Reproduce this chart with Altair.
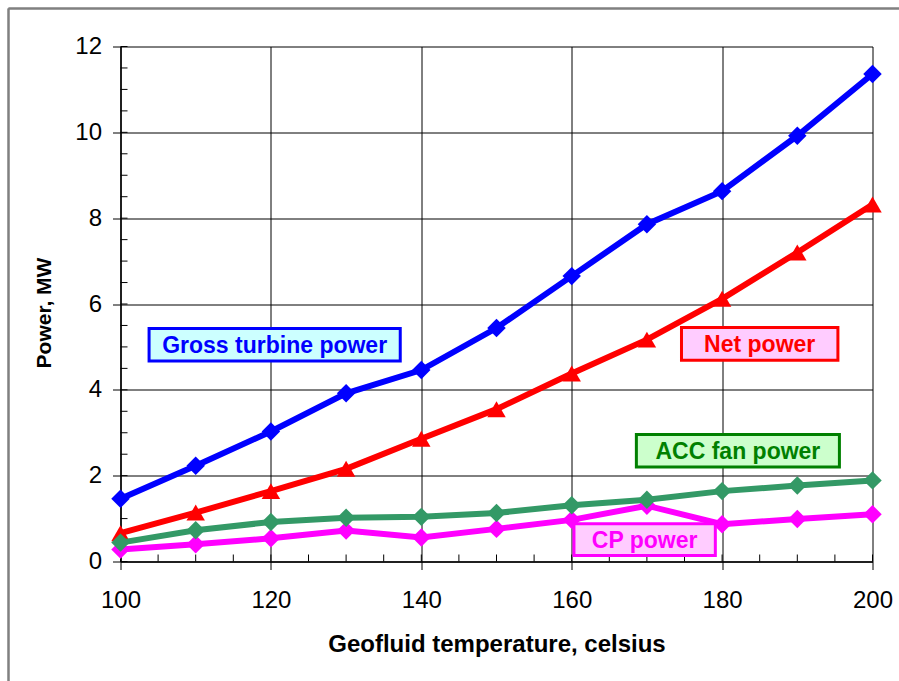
import altair as alt
import pandas as pd

# ---- data ----
temps = [100, 110, 120, 130, 140, 150, 160, 170, 180, 190, 200]
gross = [1.46, 2.23, 3.03, 3.92, 4.46, 5.44, 6.65, 7.86, 8.63, 9.92, 11.36]
net = [0.66, 1.14, 1.64, 2.16, 2.86, 3.55, 4.38, 5.17, 6.12, 7.20, 8.32]
acc = [0.44, 0.73, 0.92, 1.02, 1.04, 1.13, 1.31, 1.44, 1.64, 1.77, 1.89]
cp = [0.28, 0.40, 0.54, 0.72, 0.56, 0.76, 0.97, 1.30, 0.87, 0.99, 1.10]

series_names = ["CP power", "Net power", "ACC fan power", "Gross turbine power"]
series_values = [cp, net, acc, gross]
series_colors = ["#ff00ff", "#ff0000", "#339966", "#0000ff"]
series_shapes = ["diamond", "triangle-up", "diamond", "diamond"]

x_ticks = [100, 120, 140, 160, 180, 200]
y_ticks = [0, 2, 4, 6, 8, 10, 12]
x_minor = list(range(100, 201, 5))
y_minor = [i * 0.5 for i in range(25)]

# annotation boxes (data coordinates)
ann_text = ["Gross turbine power", "Net power", "ACC fan power", "CP power"]
ann_x1 = [103.8, 174.6, 168.6, 160.3]
ann_x2 = [137.2, 195.4, 195.6, 179.1]
ann_y1 = [4.67, 4.69, 2.20, 0.14]
ann_y2 = [5.43, 5.45, 2.96, 0.88]
ann_fill = ["#ccffff", "#ffccff", "#ccffcc", "#ffccff"]
ann_stroke = ["#0000ff", "#ff0000", "#008000", "#ff00ff"]
ann_color = ["#0000ff", "#ff0000", "#008000", "#ff00ff"]

W, H = 752, 515
FONT = "Liberation Sans"
NARROW = "Liberation Sans Narrow, Arial Narrow, Liberation Sans"

xs = alt.Scale(domain=[100, 200], nice=False, zero=False)
ys = alt.Scale(domain=[0, 12], nice=False, zero=True)

x_axis = alt.Axis(values=x_ticks, grid=True, gridColor="#000000", gridWidth=1, gridOpacity=1,
                  tickSize=8, tickColor="#000000", domainColor="#000000", domainWidth=1.5,
                  labelFontSize=24, labelFont=NARROW, labelColor="#000000", labelPadding=19,
                  labelFlush=False,
                  title="Geofluid temperature, celsius", titleFont=FONT, titleFontSize=24,
                  titleFontWeight="bold", titleColor="#000000", titlePadding=20)
y_axis = alt.Axis(values=y_ticks, grid=True, gridColor="#000000", gridWidth=1, gridOpacity=1,
                  tickSize=8, tickColor="#000000", domainColor="#000000", domainWidth=1.5,
                  labelFontSize=24, labelFont=NARROW, labelColor="#000000", labelPadding=11,
                  labelFlush=False,
                  title="Power, MW", titleFont=FONT, titleFontSize=21, titleY=266,
                  titleFontWeight="bold", titleColor="#000000", titlePadding=20)


def X(field):
    return alt.X(field, scale=xs, axis=x_axis)


def Y(field):
    return alt.Y(field, scale=ys, axis=y_axis)


# axes layer (invisible points used only to draw axes/grid)
axes_df = pd.DataFrame({"x": [100, 200], "y": [0, 12]})
axes = alt.Chart(axes_df).mark_point(opacity=0).encode(x=X("x:Q"), y=Y("y:Q"))

# minor ticks (inside)
ymin_df = pd.DataFrame({"y": y_minor})
ymin = alt.Chart(ymin_df).mark_rule(color="#000000", strokeWidth=1).encode(
    y=Y("y:Q"), x=alt.value(0), x2=alt.value(7),
)
xmin_df = pd.DataFrame({"x": x_minor})
xmin = alt.Chart(xmin_df).mark_rule(color="#000000", strokeWidth=1).encode(
    x=X("x:Q"), y=alt.value(H), y2=alt.value(H - 7),
)

layers = [axes, ymin, xmin]

for name, vals, col, shp in zip(series_names, series_values, series_colors, series_shapes):
    df = pd.DataFrame({"t": temps, "v": vals, "s": name})
    base = alt.Chart(df).encode(x=X("t:Q"), y=Y("v:Q"))
    line = base.mark_line(color=col, strokeWidth=6)
    pts = base.mark_point(shape=shp, filled=True, color=col, size=340, opacity=1)
    layers += [line, pts]

ann_df = pd.DataFrame({
    "text": ann_text, "x1": ann_x1, "x2": ann_x2, "y1": ann_y1, "y2": ann_y2,
    "fill": ann_fill, "stroke": ann_stroke, "tcol": ann_color,
})
ann_df["xm"] = (ann_df["x1"] + ann_df["x2"]) / 2
ann_df["ym"] = (ann_df["y1"] + ann_df["y2"]) / 2

boxes = alt.Chart(ann_df).mark_rect(strokeWidth=3).encode(
    x=X("x1:Q"), x2="x2:Q",
    y=Y("y1:Q"), y2="y2:Q",
    fill=alt.Fill("fill:N", scale=None),
    stroke=alt.Stroke("stroke:N", scale=None),
)
texts = alt.Chart(ann_df).mark_text(font=FONT, fontSize=23, fontWeight="bold",
                                    align="center", baseline="middle", dy=1).encode(
    x=X("xm:Q"), y=Y("ym:Q"),
    text="text:N",
    color=alt.Color("tcol:N", scale=None),
)
layers += [boxes, texts]

# outer frame (decoration)
frame_left = alt.Chart(axes_df).mark_rule(color="#808080", strokeWidth=2).encode(
    x=alt.value(-112), y=alt.value(-38), y2=alt.value(H + 200))
frame_top = alt.Chart(axes_df).mark_rule(color="#808080", strokeWidth=2).encode(
    x=alt.value(-112), x2=alt.value(W + 100), y=alt.value(-38))
layers += [frame_left, frame_top]

chart = alt.layer(*layers).properties(
    width=W, height=H,
    autosize=alt.AutoSizeParams(type="none"),
    padding={"left": 120.5, "top": 46.5, "right": 26.5, "bottom": 119.5},
    background="#ffffff",
).configure_view(stroke=None)

chart.save("out.html", embed_options={"renderer": "svg", "actions": False})
